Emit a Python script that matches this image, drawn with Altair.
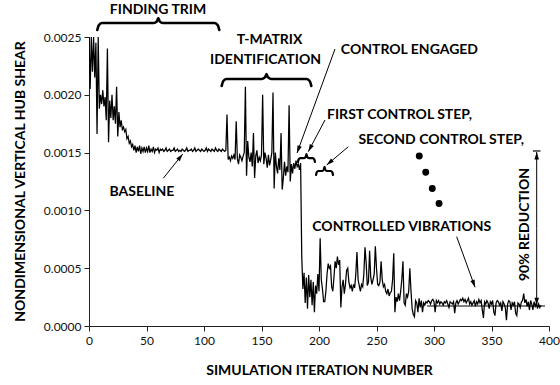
import math
import altair as alt
import pandas as pd

# ---------------- data ----------------
trim_phase = [0.00250, 0.00205, 0.00250, 0.00220, 0.00250, 0.00215, 0.00245, 0.00166, 0.00250, 0.00188,
              0.00200, 0.00192, 0.00204, 0.00190, 0.00198, 0.00178, 0.00240, 0.00159, 0.00195, 0.00180,
              0.00200, 0.00178, 0.00190, 0.00175, 0.00207, 0.00164, 0.00185, 0.00172, 0.00178, 0.00170,
              0.00172, 0.00168, 0.00170, 0.00162, 0.00164, 0.00158, 0.00160, 0.00155, 0.00157]

baseline_phase = [0.00152, 0.00156, 0.00150, 0.00155, 0.00151, 0.00156, 0.00149, 0.00154, 0.00151, 0.00155,
                  0.00150, 0.00154, 0.00151, 0.00156, 0.00150, 0.00153, 0.00151, 0.00155, 0.00150, 0.00153,
                  0.00152, 0.00154, 0.00150, 0.00153,
                  0.00152, 0.00153, 0.00151, 0.00152, 0.00154, 0.00151, 0.00152, 0.00153, 0.00151, 0.00152,
                  0.00152, 0.00154, 0.00151, 0.00152, 0.00153, 0.00151, 0.00152, 0.00151, 0.00153, 0.00152,
                  0.00151, 0.00152, 0.00154, 0.00151, 0.00152, 0.00152, 0.00153, 0.00151, 0.00152, 0.00154,
                  0.00151, 0.00152, 0.00153, 0.00152, 0.00151, 0.00153, 0.00152, 0.00151, 0.00152, 0.00154,
                  0.00151, 0.00153, 0.00152, 0.00151, 0.00153, 0.00152, 0.00151, 0.00154, 0.00152, 0.00151,
                  0.00153, 0.00152, 0.00151, 0.00153, 0.00152, 0.00151, 0.00152]

tmatrix_phase = [0.00183, 0.00144, 0.00146, 0.00143, 0.00147, 0.00145, 0.00148, 0.00144, 0.00177, 0.00145,
                 0.00140, 0.00148, 0.00146, 0.00143, 0.00147, 0.00150, 0.00207, 0.00130, 0.00160, 0.00146,
                 0.00142, 0.00150, 0.00138, 0.00167, 0.00128, 0.00147, 0.00152, 0.00141, 0.00146, 0.00143,
                 0.00148, 0.00200, 0.00140, 0.00150, 0.00145, 0.00137, 0.00148, 0.00139, 0.00144, 0.00150,
                 0.00202, 0.00119, 0.00150, 0.00138, 0.00132, 0.00145, 0.00135, 0.00167, 0.00118, 0.00128,
                 0.00142, 0.00130, 0.00138, 0.00133, 0.00191, 0.00125, 0.00140, 0.00132, 0.00141, 0.00136,
                 0.00143, 0.00138, 0.00140, 0.00135, 0.00141]

control_phase = [0.00060, 0.00032, 0.00046, 0.00020, 0.00042, 0.00015, 0.00044, 0.00025, 0.00040, 0.00018,
                 0.00038, 0.00012, 0.00035, 0.00028, 0.00045, 0.00030, 0.00076, 0.00040, 0.00032, 0.00021,
                 0.00021, 0.00030, 0.00045, 0.00054, 0.00050, 0.00052, 0.00034, 0.00030, 0.00042, 0.00056,
                 0.00050, 0.00060, 0.00053, 0.00057, 0.00016, 0.00034, 0.00040, 0.00028, 0.00036, 0.00048,
                 0.00050, 0.00038, 0.00033, 0.00035, 0.00030, 0.00036, 0.00033, 0.00045, 0.00064, 0.00040,
                 0.00035, 0.00030, 0.00036, 0.00034, 0.00045, 0.00068, 0.00055, 0.00035, 0.00038, 0.00065,
                 0.00042, 0.00036, 0.00040, 0.00045, 0.00069, 0.00050, 0.00036, 0.00035, 0.00038, 0.00056,
                 0.00040, 0.00034, 0.00036, 0.00030, 0.00028, 0.00032, 0.00026, 0.00029, 0.00030, 0.00040,
                 0.00063, 0.00012, 0.00025, 0.00021, 0.00028, 0.00022, 0.00030, 0.00040, 0.00056, 0.00020,
                 0.00018, 0.00028, 0.00025, 0.00030, 0.00050, 0.00030, 0.00015, 0.00010, 0.00008, 0.00022,
                 0.00020, 0.00012, 0.00024, 0.00016, 0.00022, 0.00012, 0.00020, 0.00018, 0.00021]

controlled_phase = [0.00020, 0.00022, 0.00021, 0.00019, 0.00022, 0.00023, 0.00021, 0.00012, 0.00022, 0.00020,
                    0.00022, 0.00019, 0.00021, 0.00020, 0.00018, 0.00021, 0.00020, 0.00022, 0.00019, 0.00016,
                    0.00021, 0.00020, 0.00019, 0.00021, 0.00011, 0.00020, 0.00022, 0.00019, 0.00021, 0.00023,
                    0.00022, 0.00024, 0.00021, 0.00023, 0.00020, 0.00022, 0.00024, 0.00019, 0.00021, 0.00018,
                    0.00020, 0.00022, 0.00017, 0.00021, 0.00019, 0.00023, 0.00020, 0.00022, 0.00014, 0.00007,
                    0.00021, 0.00019, 0.00022, 0.00020, 0.00015, 0.00021, 0.00019, 0.00022, 0.00012, 0.00009,
                    0.00020, 0.00022, 0.00021, 0.00018, 0.00020, 0.00013, 0.00021, 0.00019, 0.00016, 0.00005,
                    0.00019, 0.00022, 0.00021, 0.00014, 0.00020, 0.00018, 0.00021, 0.00011, 0.00009, 0.00020,
                    0.00019, 0.00016, 0.00021, 0.00022, 0.00028, 0.00020, 0.00023, 0.00017, 0.00021, 0.00014,
                    0.00022, 0.00019, 0.00014, 0.00021, 0.00017, 0.00020, 0.00015, 0.00019, 0.00016, 0.00018]

shear = trim_phase + baseline_phase + tmatrix_phase + control_phase + controlled_phase
iterations = list(range(len(shear)))

x_ticks = [0, 50, 100, 150, 200, 250, 300, 350, 400]
y_ticks = [0.0, 0.0005, 0.0010, 0.0015, 0.0020, 0.0025]

# annotations (in data units: iteration, shear)
centered_labels = ["FINDING TRIM", "T-MATRIX", "IDENTIFICATION", "BASELINE", "CONTROLLED VIBRATIONS"]
centered_x = [60, 157, 153.5, 46, 272]
centered_y = [0.002734, 0.002474, 0.002301, 0.001162, 0.000859]

left_labels = ["CONTROL ENGAGED", "FIRST CONTROL STEP,", "SECOND CONTROL STEP,"]
left_x = [219, 207, 234.3]
left_y = [0.002388, 0.001825, 0.001609]

reduction_label = "90% REDUCTION"
reduction_x = 379
reduction_y = 0.000878

# arrows: start -> tip
arrow_x0 = [64.6, 213.9, 205.2, 225.5, 319.7, 389.3, 389.3]
arrow_y0 = [0.001278, 0.002396, 0.001782, 0.001551, 0.000773, 0.000845, 0.000845]
arrow_x1 = [81.5, 180.9, 190.7, 206.7, 335.7, 389.3, 389.3]
arrow_y1 = [0.001488, 0.001497, 0.001508, 0.001393, 0.000335, 0.001505, 0.000180]

# braces: start, end, level, end drop, tip rise, width
brace_x0 = [7.2, 115.4, 181.7, 197.4]
brace_x1 = [113.3, 193.3, 196.5, 212.2]
brace_lvl = [0.002621, 0.002137, 0.001453, 0.001341]
brace_drop = [0.000060, 0.000060, 0.000034, 0.000034]
brace_rise = [0.000043, 0.000043, 0.000035, 0.000035]
brace_k = [2.0, 2.0, 1.0, 1.0]
brace_w = [2.6, 2.6, 2.2, 2.2]

# continuation dots
dot_x = [287.2, 292.8, 298.5, 304.4]
dot_y = [0.00147, 0.00133, 0.00119, 0.00106]

# reference lines (90% reduction)
ref_x = [294, 396.5]
ref_y = [0.000173, 0.000173]
cap_x = [386, 392.6]
cap_y = [0.001514, 0.001514]

# ---------------- chart ----------------
W, H = 460, 289
XMAX, YMAX = 400, 0.0025
FONT = "Lato"

x_axis = alt.Axis(values=x_ticks, title="SIMULATION ITERATION NUMBER", grid=False, labelFlush=False,
                  tickSize=5, labelPadding=4, titleY=44, titleX=230, titleBaseline="middle",
                  titleAlign="center")
y_axis = alt.Axis(values=y_ticks, format=".4f", title="NONDIMENSIONAL VERTICAL HUB SHEAR", grid=False,
                  labelFlush=False,
                  tickSize=5, labelPadding=3, titleX=-69, titleY=144, titleAngle=270,
                  titleBaseline="middle", titleAlign="center")
xs = alt.Scale(domain=[0, XMAX], nice=False, zero=False)
ys = alt.Scale(domain=[0, YMAX], nice=False, zero=False)


def X(field="iteration"):
    return alt.X(f"{field}:Q", scale=xs, axis=x_axis)


def Y(field="shear"):
    return alt.Y(f"{field}:Q", scale=ys, axis=y_axis)


main_df = pd.DataFrame({"iteration": iterations, "shear": shear})
line = alt.Chart(main_df).mark_line(color="black", strokeWidth=1.25, clip=True).encode(x=X(), y=Y())

# braces
rows = []
for b in range(len(brace_x0)):
    a, e, L, d, r, k = brace_x0[b], brace_x1[b], brace_lvl[b], brace_drop[b], brace_rise[b], brace_k[b]
    c = (a + e) / 2
    pts = [(a, L - d), (a + k * 0.6, L - d * 0.35), (a + 2 * k, L), (c - 2 * k, L),
           (c - k * 0.6, L + r * 0.35), (c, L + r), (c + k * 0.6, L + r * 0.35), (c + 2 * k, L),
           (e - 2 * k, L), (e - k * 0.6, L - d * 0.35), (e, L - d)]
    for j, (px, py) in enumerate(pts):
        rows.append({"iteration": px, "shear": py, "brace": b, "seq": j, "w": brace_w[b]})
brace_df = pd.DataFrame(rows)
braces = alt.Chart(brace_df).mark_line(color="black", interpolate="monotone", strokeCap="round").encode(
    x=X(), y=Y(), detail="brace:N", order="seq:Q", strokeWidth=alt.StrokeWidth("w:Q", scale=None))

# arrows
px_x = W / XMAX
px_y = H / YMAX
angles = []
for i in range(len(arrow_x0)):
    dx = (arrow_x1[i] - arrow_x0[i]) * px_x
    dy = -(arrow_y1[i] - arrow_y0[i]) * px_y
    angles.append(math.degrees(math.atan2(dx, -dy)) % 360)
arrow_df = pd.DataFrame({"iteration": arrow_x0, "shear": arrow_y0,
                         "x1": arrow_x1, "y1": arrow_y1, "ang": angles})
arrow_lines = alt.Chart(arrow_df).mark_rule(color="black", strokeWidth=1).encode(
    x=X(), y=Y(), x2="x1:Q", y2="y1:Q")
heads_df = pd.DataFrame({"iteration": arrow_x1, "shear": arrow_y1, "ang": angles})
heads = alt.Chart(heads_df).mark_point(
    shape="M0,0L-0.45,1.5L0.45,1.5Z", filled=True, color="black", opacity=1, size=100, strokeWidth=0
).encode(x=X(), y=Y(), angle=alt.Angle("ang:Q", scale=None))

ref_df = pd.DataFrame({"iteration": ref_x + cap_x, "shear": ref_y + cap_y, "g": [0, 0, 1, 1]})
refs = alt.Chart(ref_df).mark_line(color="black", strokeWidth=1.2).encode(x=X(), y=Y(), detail="g:N")

dots_df = pd.DataFrame({"iteration": dot_x, "shear": dot_y})
dots = alt.Chart(dots_df).mark_circle(color="black", opacity=1, size=48).encode(x=X(), y=Y())

c_df = pd.DataFrame({"iteration": centered_x, "shear": centered_y, "t": centered_labels})
c_text = alt.Chart(c_df).mark_text(font=FONT, fontSize=14, fontWeight="bold", color="black",
                                   align="center", baseline="middle").encode(x=X(), y=Y(), text="t:N")
l_df = pd.DataFrame({"iteration": left_x, "shear": left_y, "t": left_labels})
l_text = alt.Chart(l_df).mark_text(font=FONT, fontSize=14, fontWeight="bold", color="black",
                                   align="left", baseline="middle").encode(x=X(), y=Y(), text="t:N")
r_df = pd.DataFrame({"iteration": [reduction_x], "shear": [reduction_y], "t": [reduction_label]})
r_text = alt.Chart(r_df).mark_text(font=FONT, fontSize=14, fontWeight="bold", color="black",
                                   align="center", baseline="middle", angle=270).encode(
    x=X(), y=Y(), text="t:N")

chart = alt.layer(line, refs, braces, arrow_lines, heads, dots, c_text, l_text, r_text).properties(
    width=W, height=H, autosize="none",
    padding={"left": 89, "top": 37, "right": 11, "bottom": 59},
    background="white",
).configure_view(stroke=None).configure_axis(
    domainColor="#222", domainWidth=1, tickColor="#222", tickWidth=1,
    labelFont=FONT, labelFontSize=12, labelColor="#111",
    titleFont=FONT, titleFontSize=14, titleFontWeight="bold", titleColor="black",
)

chart.save("out.html", embed_options={"renderer": "svg", "actions": False})
